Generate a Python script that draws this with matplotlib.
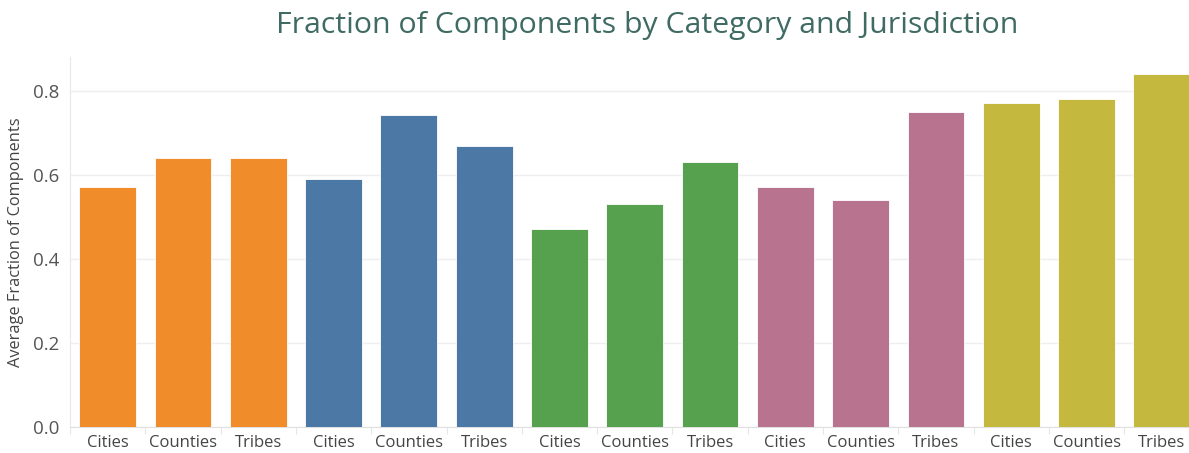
import matplotlib
matplotlib.use('Agg')
import matplotlib.pyplot as plt
import numpy as np

jurisdictions = ['Cities', 'Counties', 'Tribes'] * 5
group_colors = ['#F08C2A', '#4C78A5', '#56A14D', '#B8738E', '#C4B93E']
values = [0.570, 0.639, 0.639,
          0.591, 0.741, 0.669,
          0.470, 0.531, 0.630,
          0.570, 0.540, 0.750,
          0.771, 0.780, 0.840]
y_ticks = [0.0, 0.2, 0.4, 0.6, 0.8]

plt.rcParams['font.family'] = ['Open Sans', 'DejaVu Sans']

fig = plt.figure(figsize=(11.89, 4.53), dpi=100)
W, H = 1189, 453
ax = fig.add_axes([70 / W, (H - 427) / H, 1129.5 / W, (427 - 57) / H])

x = np.arange(len(values))
colors = [group_colors[i // 3] for i in range(len(values))]
ax.bar(x, values, width=0.755, color=colors, edgecolor='white', linewidth=0.6, zorder=3)

ax.set_xlim(-0.5, len(values) - 0.5)
ax.set_ylim(0, 0.88)
ax.set_yticks(y_ticks)
ax.set_yticklabels(['{:.1f}'.format(v) for v in y_ticks])
ax.set_xticks(x)
ax.set_xticklabels(jurisdictions)
ax.set_xticks(np.arange(-0.5, len(values), 1), minor=True)

ax.tick_params(axis='x', which='major', length=0, pad=6, labelsize=12, labelcolor='#444444')
ax.tick_params(axis='x', which='minor', length=5, color='#E6E6E6', width=0.8)
ax.tick_params(axis='y', length=0, pad=8, labelsize=13.5, labelcolor='#555555')

ax.grid(axis='y', color='#EFEFEF', linewidth=1, zorder=0)
for s in ['top', 'right']:
    ax.spines[s].set_visible(False)
ax.spines['left'].set_color('#E8E8E8')
ax.spines['bottom'].set_color('#E0E0E0')

ax.set_ylabel('Average Fraction of Components', fontsize=11.8, color='#444444', labelpad=6)

fig.text(647 / W, 1 - 25 / H, 'Fraction of Components by Category and Jurisdiction',
         ha='center', va='center', fontsize=21.8, color='#3F6B63')

fig.savefig('out.png', dpi=100)
